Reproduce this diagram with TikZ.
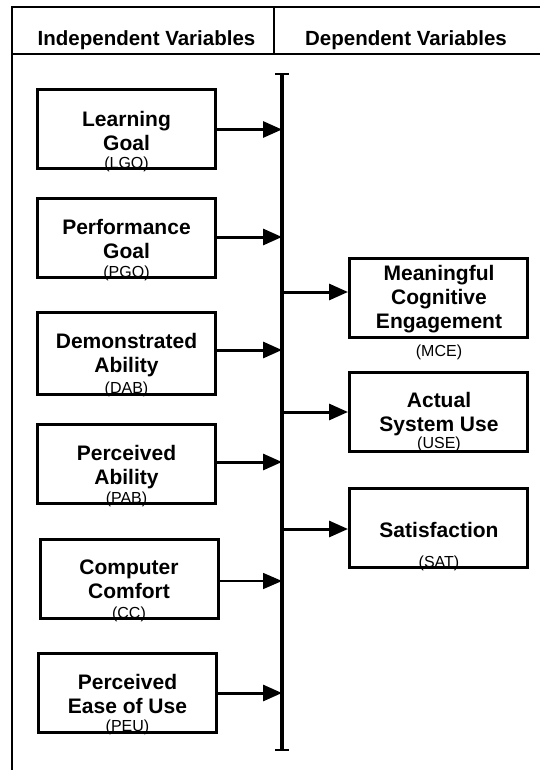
\documentclass[tikz,border=0pt]{standalone}
\usepackage{fontspec}
\setmainfont{Liberation Sans}
\usetikzlibrary{arrows.meta}

\begin{document}
\begin{tikzpicture}[x=1pt,y=-1pt,
  frameline/.style={line width=1.8pt},
  varbox/.style={draw, line width=3pt, minimum width=178pt, minimum height=79pt, inner sep=0pt},
  title/.style={anchor=base, align=center, inner sep=0pt, font=\bfseries\fontsize{21}{24}\selectfont},
  abbr/.style={anchor=base, inner sep=0pt, font=\fontsize{16}{18}\selectfont},
  head/.style={anchor=base, inner sep=0pt, font=\bfseries\fontsize{20.5}{22}\selectfont},
  link/.style={line width=3pt, -{Triangle[length=19pt,width=16pt]}},
  thinlink/.style={line width=1.6pt, -{Triangle[length=19pt,width=16pt]}}
]
\useasboundingbox (0,0) rectangle (540,770);

% header frame
\coordinate (ftl) at (11,7);
\coordinate (ftr) at (540,7);
\coordinate (fbl) at (12,770);
\coordinate (hl) at (12,54);
\coordinate (hr) at (540,54);
\coordinate (dt) at (274,7);
\coordinate (db) at (274,54);
\draw[frameline] (ftl) -- (ftr);
\draw[frameline] (12,7) -- (fbl);
\draw[frameline] (hl) -- (hr);
\draw[frameline] (dt) -- (db);
\node[head] (hind) at (146.5,46) {Independent Variables};
\node[head] (hdep) at (406,46) {Dependent Variables};

% central bar
\coordinate (bartop) at (282,74);
\coordinate (barbot) at (282,750);
\draw[line width=3.5pt] (bartop) -- (barbot);
\draw[line width=2pt] ([xshift=-7pt]bartop) -- ([xshift=7pt]bartop);
\draw[line width=2pt] ([xshift=-7pt]barbot) -- ([xshift=7pt]barbot);

% independent variables (title nodes sit on the baseline of their last line)
\node[varbox] (lgo) at (126,129.5) {};
\node[title] (lgot) at (126.5,150) {Learning\\Goal};
\node[abbr] (lgoa) at (126.5,168) {(LGO)};

\node[varbox] (pgo) at (126,238) {};
\node[title] (pgot) at (126.5,258) {Performance\\Goal};
\node[abbr] (pgoa) at (126.5,277) {(PGO)};

\node[varbox, minimum height=82pt] (dab) at (126,353.5) {};
\node[title] (dabt) at (126.5,372) {Demonstrated\\Ability};
\node[abbr] (daba) at (126.5,393) {(DAB)};

\node[varbox] (pab) at (126,464) {};
\node[title] (pabt) at (126.5,484) {Perceived\\Ability};
\node[abbr] (paba) at (126.5,503) {(PAB)};

\node[varbox] (cc) at (129,578.5) {};
\node[title] (cct) at (129,598) {Computer\\Comfort};
\node[abbr] (cca) at (129,618) {(CC)};

\node[varbox] (peu) at (127.5,692.5) {};
\node[title] (peut) at (127.5,713) {Perceived\\Ease of Use};
\node[abbr] (peua) at (127.5,731) {(PEU)};

% dependent variables
\node[varbox] (mce) at (438.5,298) {};
\node[title] (mcet) at (439,328) {Meaningful\\Cognitive\\Engagement};
\node[abbr] (mcea) at (439,356) {(MCE)};

\node[varbox] (use) at (438.5,411.5) {};
\node[title] (uset) at (439,431) {Actual\\System Use};
\node[abbr] (usea) at (439,448) {(USE)};

\node[varbox] (sat) at (438.5,528) {};
\node[title] (satt) at (439,537) {Satisfaction};
\node[abbr] (sata) at (439,567) {(SAT)};

% arrows into the bar
\draw[link] (lgo.east) -- (lgo.east -| bartop);
\draw[link] ([yshift=1pt]pgo.east) -- ([yshift=1pt]pgo.east -| bartop);
\draw[link] ([yshift=3.5pt]dab.east) -- ([yshift=3.5pt]dab.east -| bartop);
\draw[link] ([yshift=2pt]pab.east) -- ([yshift=2pt]pab.east -| bartop);
\draw[thinlink] ([yshift=-2.5pt]cc.east) -- ([yshift=-2.5pt]cc.east -| bartop);
\draw[link] ([yshift=-0.5pt]peu.east) -- ([yshift=-0.5pt]peu.east -| bartop);

% arrows out of the bar
\draw[link] ([yshift=6pt]mce.west -| bartop) -- ([yshift=6pt]mce.west);
\draw[link] ([yshift=-0.5pt]use.west -| bartop) -- ([yshift=-0.5pt]use.west);
\draw[link] ([yshift=-1pt]sat.west -| bartop) -- ([yshift=-1pt]sat.west);
\end{tikzpicture}
\end{document}
